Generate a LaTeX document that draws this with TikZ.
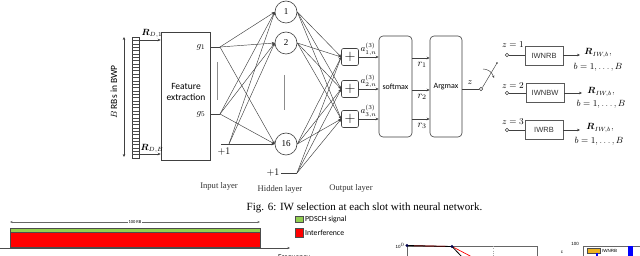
\documentclass[tikz,border=0pt]{standalone}
\usepackage{amsmath}
\usepackage{fontspec}
\setmainfont{Liberation Serif}
\newfontfamily\sfc{Carlito}
\newfontfamily\arl{Liberation Sans}
\usetikzlibrary{arrows.meta}
\definecolor{lgreen}{HTML}{92D050}
\definecolor{lred}{HTML}{FF0000}
\definecolor{lorange}{HTML}{EDB120}
\tikzset{
 ln/.style={draw=black!75, line width=0.45pt},
 arr/.style={ln, -{Stealth[length=3pt,width=2.6pt]}},
 hid/.style={circle, draw=black!75, line width=0.6pt, minimum size=22pt, inner sep=0pt, font=\fontsize{9}{9}\selectfont},
 plusbox/.style={draw=black!75, rounded corners=2pt, minimum width=17pt, minimum height=17pt, inner sep=0pt, line width=0.6pt},
 tallbox/.style={draw=black!75, rounded corners=4pt, minimum height=101pt, inner sep=0pt, line width=0.6pt, font=\sfc\fontsize{8}{8}\selectfont},
 iwbox/.style={draw=black!65, minimum width=38pt, minimum height=19pt, inner sep=0pt, line width=0.6pt, font=\arl\fontsize{7.5}{7.5}\selectfont\color{black!80}},
 lbl/.style={inner sep=0pt, font=\fontsize{9.2}{9.2}\selectfont},
 layer/.style={inner sep=0pt, font=\fontsize{8.6}{9}\selectfont\color{black!80}},
 smallc/.style={circle, draw=black!75, minimum size=3.5pt, inner sep=0pt, line width=0.45pt},
 tiny/.style={inner sep=0.5pt, font=\sfc\fontsize{4.5}{5}\selectfont},
}
\begin{document}
\begin{tikzpicture}[x=1pt,y=-1pt]
\clip (0,0) rectangle (640,256);
\fill[white] (0,0) rectangle (640,256);

% striped bar
\draw[ln] (132,37) rectangle (139,158);
\foreach \i in {1,...,35} {\draw[draw=black!70, line width=0.3pt] (132,{37+\i*121/36}) -- (139,{37+\i*121/36});}
\coordinate (dt) at (124,37);
\coordinate (db) at (124,157);
\draw[ln, {Stealth[length=3pt,width=2.6pt]}-{Stealth[length=3pt,width=2.6pt]}] (dt) -- (db);
\node[rotate=90, inner sep=0pt, font=\sfc\fontsize{9.5}{9.5}\selectfont] (brb) at (114,92) {$B$ RBs in BWP};

% feature extraction
\node[draw=black!75, line width=0.6pt, minimum width=49pt, minimum height=128pt, inner sep=0pt] (fe) at (185.5,96) {};
\node[align=center, inner sep=0pt, font=\sfc\fontsize{9.5}{11.5}\selectfont] (fet) at (186,92) {Feature\\extraction};
\coordinate (rd1) at (139,40);
\coordinate (rdb) at (139,154);
\draw[arr] (rd1) -- (rd1 -| fe.west);
\draw[arr] (rdb) -- (rdb -| fe.west);
\node[lbl] (rd1l) at (152,33) {$\boldsymbol{R}_{D,1}$};
\node[lbl] (rdbl) at (152,148) {$\boldsymbol{R}_{D,B}$};
\node[lbl, font=\fontsize{9.5}{9.5}\selectfont] (g1) at (201,47) {$g_1$};
\node[lbl, font=\fontsize{9.5}{9.5}\selectfont] (g5) at (201,114) {$g_5$};

% input branch points
\coordinate (g1b) at (220,47);
\coordinate (g5b) at (220,114);
\coordinate (bb0) at (221,144);
\coordinate (bb) at (229,144);
\draw[ln] (fe.east |- g1b) -- (g1b);
\draw[ln] (fe.east |- g5b) -- (g5b);
\draw[ln] (bb0) -- (bb);
\node[lbl, font=\fontsize{10}{10}\selectfont] (pl1) at (224,152) {$+1$};
\coordinate (vt1) at (217,62);
\coordinate (vb1) at (217,100);
\draw[draw=black!45, line width=0.5pt] (vt1) -- (vb1);

% hidden layer
\node[hid] (h1) at (286,12) {1};
\node[hid] (h2) at (286,43) {2};
\node[hid] (h16) at (286,144) {16};
\coordinate (vt2) at (284,75);
\coordinate (vb2) at (284,110);
\draw[draw=black!45, line width=0.5pt] (vt2) -- (vb2);
\foreach \s in {g1b,g5b,bb} {
  \foreach \d in {h1,h2,h16} {\draw[arr] (\s) -- (\d.west);}
}
\node[lbl, font=\fontsize{10}{10}\selectfont] (pl2) at (273,173) {$+1$};
\coordinate (hb0) at (281,173);
\coordinate (hb) at (297,173);
\draw[ln] (hb0) -- (hb);

% output layer
\node[plusbox] (p1) at (350,57) {\Large$+$};
\node[plusbox] (p2) at (350,89) {\Large$+$};
\node[plusbox] (p3) at (350,119) {\Large$+$};
\foreach \d in {p1,p2,p3} {
  \foreach \s in {h1.east,h2.east,h16.east,hb} {\draw[arr] (\s) -- (\d.west);}
}

% softmax / argmax
\node[tallbox, minimum width=33pt] (sm) at (395.5,86.5) {softmax};
\node[tallbox, minimum width=32pt] (am) at (446,86.5) {Argmax};
\draw[arr] (p1.east) -- (p1.east -| sm.west);
\draw[arr] (p2.east) -- (p2.east -| sm.west);
\draw[arr] (p3.east) -- (p3.east -| sm.west);
\node[lbl] (a1) at (368.5,49) {$a^{(3)}_{1,n}$};
\node[lbl] (a2) at (368.5,81) {$a^{(3)}_{2,n}$};
\node[lbl] (a3) at (368.5,111) {$a^{(3)}_{3,n}$};
\coordinate (r1c) at (412,58);
\coordinate (r2c) at (412,90);
\coordinate (r3c) at (412,119);
\draw[arr] (r1c) -- (r1c -| am.west);
\draw[arr] (r2c) -- (r2c -| am.west);
\draw[arr] (r3c) -- (r3c -| am.west);
\node[lbl, font=\fontsize{10}{10}\selectfont] (r1) at (422,65) {$r_1$};
\node[lbl, font=\fontsize{10}{10}\selectfont] (r2) at (422,97) {$r_2$};
\node[lbl, font=\fontsize{10}{10}\selectfont] (r3) at (422,126) {$r_3$};

% switch
\node[smallc] (c0) at (481,89) {};
\draw[ln] (am.east |- c0) -- (c0.west);
\node[lbl] (zl) at (470,83) {$z$};
\coordinate (sw) at (497,63);
\draw[ln] (c0.north east) -- (sw);
\fill[black!80] (sw) circle (0.9pt);
\coordinate (ar0) at (483,69);
\coordinate (ar1) at (494,78);
\draw[ln, -{Stealth[length=2.5pt,width=2.2pt]}] (ar0) .. controls (488,69) and (492,72) .. (ar1);

% IW blocks
\node[smallc] (o1) at (507,55) {};
\node[smallc] (o2) at (507,93) {};
\node[smallc] (o3) at (507,130) {};
\node[iwbox] (b1) at (544,55.5) {IWNRB};
\node[iwbox] (b2) at (545,93) {IWNBW};
\node[iwbox] (b3) at (544,130) {IWRB};
\draw[ln] (o1.east) -- (o1.east -| b1.west);
\draw[ln] (o2.east) -- (o2.east -| b2.west);
\draw[ln] (o3.east) -- (o3.east -| b3.west);
\node[lbl] (z1) at (513,45) {$z=1$};
\node[lbl] (z2) at (513,86) {$z=2$};
\node[lbl] (z3) at (513,122) {$z=3$};
\coordinate (e1) at (580,55);
\coordinate (e2) at (582,93);
\coordinate (e3) at (580,130);
\draw[arr] (b1.east |- e1) -- (e1);
\draw[arr] (b2.east |- e2) -- (e2);
\draw[arr] (b3.east |- e3) -- (e3);
\node[lbl] (ri1) at (598,53) {$\boldsymbol{R}_{IW,b},$};
\node[lbl] (bi1) at (598,67) {$b=1,\dots,B$};
\node[lbl] (ri2) at (601,92) {$\boldsymbol{R}_{IW,b},$};
\node[lbl] (bi2) at (601,104) {$b=1,\dots,B$};
\node[lbl] (ri3) at (600,128) {$\boldsymbol{R}_{IW,b},$};
\node[lbl] (bi3) at (599,141) {$b=1,\dots,B$};

% layer labels
\node[layer] (il) at (219,186) {Input layer};
\node[layer] (hl) at (280,189) {Hidden layer};
\node[layer] (ol) at (351,188) {Output layer};

% caption
\node[inner sep=0pt, font=\fontsize{11}{11}\selectfont] (cap) at (364.5,208) {Fig. 6: IW selection at each slot with neural network.};

% bottom figure
\coordinate (ra) at (10,222);
\coordinate (rb) at (260,222);
\draw[draw=black!60, line width=0.4pt, {Stealth[length=2.5pt,width=2pt]}-{Stealth[length=2.5pt,width=2pt]}] (ra) -- (rb);
\node[tiny, fill=white] (rbl) at (135,222) {100 RB};
\draw[draw=black!70, line width=0.4pt, fill=lgreen] (10,228) rectangle (260,232);
\draw[draw=black!70, line width=0.4pt, fill=lred] (10,232) rectangle (260,247);
\coordinate (fa) at (0,248);
\coordinate (fb) at (290,248);
\draw[draw=black!70, line width=0.4pt, -{Stealth[length=2.5pt,width=2pt]}] (fa) -- (fb);
\node[inner sep=0pt, font=\sfc\fontsize{7.5}{7.5}\selectfont] (freq) at (294,257.5) {Frequency};
\draw[draw=black!70, line width=0.4pt, fill=lgreen] (295,216) rectangle (303,222);
\node[inner sep=0pt, anchor=west, font=\sfc\fontsize{7.8}{8}\selectfont] (lg1) at (305,219) {PDSCH signal};
\draw[draw=black!70, line width=0.4pt, fill=lred] (295,228) rectangle (303,237);
\node[inner sep=0pt, anchor=west, font=\sfc\fontsize{7.8}{8}\selectfont] (lg2) at (305,233) {Interference};

% partial plot
\node[inner sep=0pt, font=\arl\fontsize{4.5}{5}\selectfont] (t100) at (400,246) {10$^{0}$};
\draw[draw=black!60, line width=0.4pt] (407,260) -- (407,246) -- (537,246) -- (537,260);
\draw[draw=black!35, line width=0.3pt, dotted] (493,246) -- (493,260);
\coordinate (q0) at (407,245.5);
\coordinate (q1) at (452,246.5);
\draw[draw=lred, line width=0.7pt] (q0) -- (q1) -- (474,258);
\draw[draw=black, line width=0.8pt] (q0) -- (q1) -- (463,258);
\fill[blue!30!black] (q0) circle (1.6pt);
\fill[blue!30!black] (q1) circle (1.6pt);

% partial bar chart
\node[inner sep=0pt, font=\arl\fontsize{4.5}{5}\selectfont] (cl) at (562,252) {c};
\node[inner sep=0pt, font=\arl\fontsize{4.5}{5}\selectfont] (c100) at (575,244) {100};
\draw[draw=black!60, line width=0.4pt] (583,260) -- (583,246) -- (641,246);
\draw[draw=black!70, line width=0.4pt, fill=lorange] (587,248) rectangle (600,253);
\node[inner sep=0pt, anchor=west, font=\arl\fontsize{4.5}{5}\selectfont] (iwl) at (602,250.5) {IWNRB};
\fill[blue] (628,246) rectangle (633,260);
\fill[blue] (595.5,253) rectangle (598,260);
\end{tikzpicture}
\end{document}
